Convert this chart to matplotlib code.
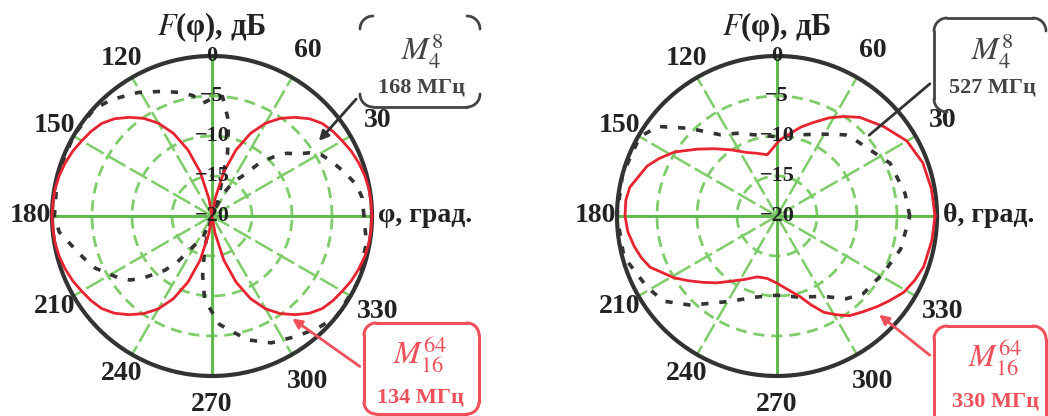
import numpy as np
import matplotlib
matplotlib.use('Agg')
import matplotlib.pyplot as plt

plt.rcParams['font.family'] = ['Liberation Serif', 'DejaVu Serif']
plt.rcParams['mathtext.fontset'] = 'stix'

# ---- left chart: M_16^64 at 134 MHz (red), M_4^8 at 168 MHz (dotted) ----
ang_red_l = [0, 5, 10, 15, 20, 25, 30, 35, 40, 45, 50, 55, 60, 65, 70, 75, 80, 85, 90,
             95, 100, 105, 110, 115, 120, 125, 130, 135, 140, 145, 150, 155, 160, 165, 170, 175,
             180, 185, 190, 195, 200, 205, 210, 215, 220, 225, 230, 235, 240, 245, 250, 255, 260,
             265, 270, 275, 280, 285, 290, 295, 300, 305, 310, 315, 320, 325, 330, 335, 340, 345,
             350, 355, 360]
db_red_l = [0, -0.05, -0.1, -0.25, -0.5, -0.8, -1.2, -1.55, -2.0, -2.8, -3.9, -5.1, -6.6, -8.6,
            -11.2, -14.3, -17.8, -20, -20,
            -20, -17.8, -14.3, -11.2, -8.6, -6.6, -5.1, -3.9, -2.8, -2.0, -1.55, -1.2, -0.8, -0.5,
            -0.25, -0.1, -0.05,
            0, -0.05, -0.1, -0.25, -0.5, -0.8, -1.2, -1.55, -2.0, -2.8, -3.9, -5.1, -6.6, -8.6,
            -11.2, -14.3, -17.8, -20, -20,
            -20, -17.8, -14.3, -11.2, -8.6, -6.6, -5.1, -3.9, -2.8, -2.0, -1.55, -1.2, -0.8, -0.5,
            -0.25, -0.1, -0.05, 0]

ang_dot_l = [0, 7, 12, 18, 24, 29, 33, 36, 40, 44, 48, 52, 58, 64, 68, 72, 76, 80, 85, 90, 95,
             99, 105, 112, 121, 131, 138, 150, 165, 180, 186, 192, 198, 204, 213, 218, 222, 229,
             233, 240, 247, 252, 257, 261, 265, 270, 274, 286, 295, 304, 313, 321, 335, 350, 360]
db_dot_l = [-1.0, -1.1, -1.5, -2.5, -3.5, -4.3, -5.5, -6.8, -7.8, -9.4, -11, -13.5, -15, -17,
            -19.5, -17, -12, -8, -5, -5.3, -5.9, -4.75, -4, -3.2, -2, -0.75, -0.1, 0, 0, -0.3,
            -0.8, -2.1, -3.1, -4, -5.9, -7, -8.4, -11, -12.75, -16, -16.75, -19.5, -16, -12.5,
            -9.5, -8, -6.4, -3.9, -2.5, -1.75, -0.75, 0, 0, -0.4, -1.0]

# ---- right chart: M_16^64 at 330 MHz (red), M_4^8 at 527 MHz (dotted) ----
ang_red_r = [0, 10, 20, 30, 40, 50, 56, 62, 69, 75, 80, 88, 99, 108, 115, 125, 133, 140, 148,
             154, 159, 169, 174, 180, 186, 192, 197, 202, 211, 216, 222, 228, 234, 243, 252, 261,
             270, 278, 286, 291, 296, 301, 306, 312, 318, 323, 329, 335, 341, 351, 360]
db_red_r = [-0.25, -0.4, -0.6, -1.25, -2.6, -3.9, -5, -6.1, -7.5, -8.5, -9.4, -10.5, -12.25,
            -11.75, -11.25, -9.9, -8.5, -7, -4.9, -3.6, -2.6, -1.25, -1, -1, -1.25, -1.75, -2.25,
            -2.9, -5, -6.25, -7.6, -8.75, -9.9, -11.1, -12, -12.1, -11.6, -10.75, -9.5, -8.1,
            -6.6, -5.6, -4.6, -3.9, -3.1, -2.4, -1.5, -1.0, -0.6, -0.4, -0.25]

ang_dot_r = [0, 10, 25, 43, 50, 62, 75, 90, 105, 116, 125, 135, 143, 150, 165, 180, 195, 209,
             217, 226, 241, 255, 270, 285, 300, 310, 318, 332, 345, 360]
db_dot_r = [-3.4, -3.75, -4.4, -6.3, -6.75, -8.4, -9.5, -10.1, -9.5, -8.5, -7.6, -4.5, -1.4,
            -0.2, 0, 0, -0.2, -1.5, -2.3, -4.5, -7.8, -9.5, -10.1, -9.5, -8.4, -6.5, -5.5, -4.9,
            -4.0, -3.4]

rticks = [0, -5, -10, -15, -20]
angle_ticks = [30, 60, 120, 150, 180, 210, 240, 270, 300, 330]

GREEN = '#62bb4e'
GREEN_L = '#7fcc6a'
RED = '#e82430'
RED_L = '#f0505a'
DARK = '#333333'
TXT = '#222222'


def polar_panel(ax, ang_r, db_r, ang_d, db_d, axis_name):
    ax.set_ylim(-20, 0)
    ax.set_theta_zero_location('E')
    ax.grid(False)
    ax.set_xticks([])
    ax.set_yticks([])
    ax.spines['polar'].set_color(DARK)
    ax.spines['polar'].set_linewidth(3)

    th = np.linspace(0, 2 * np.pi, 361)
    for r in rticks[1:-1]:
        ax.plot(th, np.full_like(th, r), color=GREEN_L, lw=2, ls=(0, (4, 2.5)), zorder=1)
    for a in range(0, 360, 30):
        t = np.deg2rad(a)
        if a % 90 == 0:
            ax.plot([t, t], [-20, 0], color=GREEN, lw=2.2, zorder=1)
        else:
            ax.plot([t, t], [-20, 0], color=GREEN_L, lw=1.8, ls=(0, (8, 2)), zorder=1)

    ax.plot(np.deg2rad(ang_d), db_d, color=DARK, lw=2.6, ls=(0, (2, 3)), zorder=3, clip_on=False)
    ax.plot(np.deg2rad(ang_r), db_r, color=RED, lw=2, zorder=4, clip_on=False)

    for a in angle_ticks:
        if a in (30, 60, 300, 330):
            rr = 3.9
        elif a == 270:
            rr = 3.6
        else:
            rr = 2.7
        ax.text(np.deg2rad(a), rr, str(a), ha='center', va='center', fontsize=20,
                fontweight='bold', color=TXT)
    ax.text(0, 0.75, axis_name, ha='left', va='center', fontsize=20, fontweight='bold',
            color=TXT)
    ax.text(np.pi / 2, 3.6, r'$F$(φ), дБ', ha='center', va='center', fontsize=22,
            fontweight='bold', color=TXT)
    for r in rticks:
        lab = '0' if r == 0 else '−' + str(-r)
        ax.text(np.pi / 2, r, lab, ha='center', va='center', fontsize=16,
                fontweight='bold', color=TXT, zorder=5)


def arc(cx, cy, rad, a0, a1):
    a = np.deg2rad(np.linspace(a0, a1, 20))
    return cx + rad * np.cos(a), cy + rad * np.sin(a)


def box_pieces(ov, x0, y0, x1, y1, rad, pieces, color, lw):
    segs = {
        'tl': arc(x0 + rad, y0 + rad, rad, 180, 270),
        'tr': arc(x1 - rad, y0 + rad, rad, 270, 360),
        'br': arc(x1 - rad, y1 - rad, rad, 0, 90),
        'bl': arc(x0 + rad, y1 - rad, rad, 90, 180),
        'top': ([x0 + rad, x1 - rad], [y0, y0]),
        'bottom': ([x0 + rad, x1 - rad], [y1, y1]),
        'left': ([x0, x0], [y0 + rad, y1 - rad]),
        'right': ([x1, x1], [y0 + rad, y1 - rad]),
    }
    for p in pieces:
        xs, ys = segs[p]
        ov.plot(xs, ys, color=color, lw=lw, solid_capstyle='round')


fig = plt.figure(figsize=(10.48, 4.16), dpi=100)
R = 160
axl = fig.add_axes([(212 - R) / 1048, (200 - R) / 416, 2 * R / 1048, 2 * R / 416], projection='polar')
axr = fig.add_axes([(777 - R) / 1048, (200 - R) / 416, 2 * R / 1048, 2 * R / 416], projection='polar')
polar_panel(axl, ang_red_l, db_red_l, ang_dot_l, db_dot_l, 'φ, град.')
polar_panel(axr, ang_red_r, db_red_r, ang_dot_r, db_dot_r, 'θ, град.')

# callouts drawn in pixel coordinates on an overlay
ov = fig.add_axes([0, 0, 1, 1], zorder=10)
ov.set_xlim(0, 1048)
ov.set_ylim(416, 0)
ov.axis('off')
ov.patch.set_alpha(0)

box_pieces(ov, 360, 16, 480, 107, 13, ['tl', 'tr', 'bl', 'bottom', 'br'], '#444444', 2)
ov.text(422, 50, r'$M_4^8$', ha='center', va='center', fontsize=23, color='#444444')
ov.text(422, 88, '168 МГц', ha='center', va='center', fontsize=16, fontweight='bold', color='#444444')
ov.annotate('', xy=(317, 143), xytext=(358, 97),
            arrowprops=dict(arrowstyle='-|>', color=DARK, lw=2, mutation_scale=14))

box_pieces(ov, 364, 323, 479, 414, 12, ['tl', 'top', 'tr', 'right', 'br', 'bottom', 'bl', 'left'], RED_L, 2.2)
ov.text(420, 355, r'$M_{16}^{64}$', ha='center', va='center', fontsize=23, color=RED_L)
ov.text(420, 398, '134 МГц', ha='center', va='center', fontsize=16, fontweight='bold', color=RED_L)
ov.annotate('', xy=(290, 317), xytext=(362, 368),
            arrowprops=dict(arrowstyle='-|>', color=RED_L, lw=2, mutation_scale=14))

box_pieces(ov, 934, 18, 1046, 112, 13, ['tl', 'top', 'tr', 'left', 'bl'], '#444444', 2)
ov.text(992, 50, r'$M_4^8$', ha='center', va='center', fontsize=23, color='#444444')
ov.text(992, 88, '527 МГц', ha='center', va='center', fontsize=16, fontweight='bold', color='#444444')
ov.annotate('', xy=(867, 137), xytext=(932, 82),
            arrowprops=dict(arrowstyle='-', color=DARK, lw=2))

box_pieces(ov, 934, 326, 1046, 440, 13, ['tl', 'top', 'tr', 'left', 'right'], RED_L, 2.2)
ov.text(995, 358, r'$M_{16}^{64}$', ha='center', va='center', fontsize=23, color=RED_L)
ov.text(995, 402, '330 МГц', ha='center', va='center', fontsize=16, fontweight='bold', color=RED_L)
ov.annotate('', xy=(877, 313), xytext=(932, 357),
            arrowprops=dict(arrowstyle='-|>', color=RED_L, lw=2, mutation_scale=14))

fig.savefig('out.png', dpi=100)
